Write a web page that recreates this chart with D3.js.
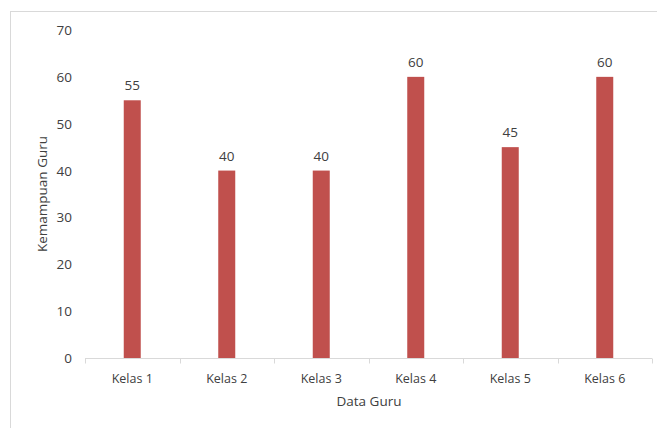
<!DOCTYPE html>
<html><head><meta charset="utf-8">
<script src="https://cdn.jsdelivr.net/npm/d3@7"></script>
<style>
body{margin:0;background:#fff;}
text{font-family:"Open Sans","Noto Sans",sans-serif;fill:#404040;}
</style></head>
<body><svg id="c" width="657" height="428"></svg>
<script>
const categories = ["Kelas 1","Kelas 2","Kelas 3","Kelas 4","Kelas 5","Kelas 6"];
const values = [55,40,40,60,45,60];
const yTicks = [0,10,20,30,40,50,60,70];
const xTitle = "Data Guru";
const yTitle = "Kemampuan Guru";

const svg = d3.select("#c");
// chart border
svg.append("rect").attr("x",10.5).attr("y",11.5).attr("width",700).attr("height",500)
  .attr("fill","none").attr("stroke","#d9d9d9").attr("stroke-width",1);

const x = d3.scaleBand().domain(categories).range([85,652]);
const y = d3.scaleLinear().domain([0,70]).range([358,30]);
const barW = 17;

svg.selectAll("rect.bar").data(values).join("rect").attr("class","bar")
  .attr("x",(d,i)=>x(categories[i])+x.bandwidth()/2-barW/2)
  .attr("y",d=>y(d)).attr("width",barW).attr("height",d=>y(0)-y(d))
  .attr("fill","#c0504d");

// x axis
const xa = svg.append("g").attr("transform","translate(0,358.5)");
xa.append("line").attr("x1",85).attr("x2",652).attr("stroke","#d9d9d9");
const edges = categories.map(c=>x(c)).concat([x(categories[5])+x.bandwidth()]);
xa.selectAll("line.t").data(edges).join("line").attr("class","t")
  .attr("x1",d=>Math.round(d)+0.5).attr("x2",d=>Math.round(d)+0.5).attr("y1",0).attr("y2",5).attr("stroke","#d9d9d9");
xa.selectAll("text").data(categories).join("text")
  .attr("x",d=>x(d)+x.bandwidth()/2).attr("y",24).attr("text-anchor","middle")
  .attr("font-size",12.5).text(d=>d);

// y labels
svg.selectAll("text.yt").data(yTicks).join("text").attr("class","yt")
  .attr("x",72).attr("y",d=>y(d)+5).attr("text-anchor","end").attr("font-size",13.5).text(d=>d);

// value labels
svg.selectAll("text.v").data(values).join("text").attr("class","v")
  .attr("x",(d,i)=>x(categories[i])+x.bandwidth()/2).attr("y",d=>y(d)-10)
  .attr("text-anchor","middle").attr("font-size",13.5).text(d=>d);

svg.append("text").attr("x",369).attr("y",406).attr("text-anchor","middle").attr("font-size",13.5).text(xTitle);
svg.append("text").attr("transform","translate(47,194) rotate(-90)").attr("text-anchor","middle").attr("font-size",13.5).text(yTitle);
</script></body></html>
